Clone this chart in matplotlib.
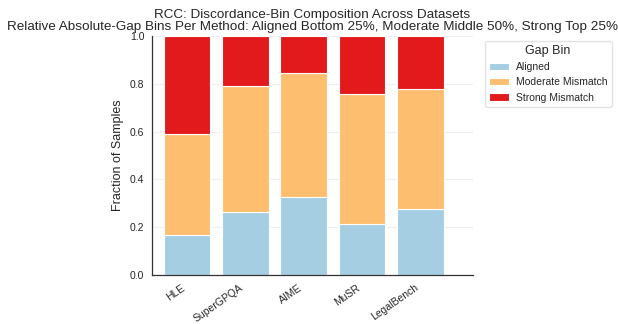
import numpy as np
import seaborn as sns
from matplotlib import pyplot as plt

datasets = ['HLE', 'SuperGPQA', 'AIME', 'MuSR', 'LegalBench']
bins = ['Aligned', 'Moderate Mismatch', 'Strong Mismatch']
aligned = [0.166, 0.262, 0.325, 0.213, 0.276]
moderate = [0.424, 0.527, 0.520, 0.543, 0.502]
strong = [0.410, 0.211, 0.155, 0.244, 0.222]
colors = ['#a6cee3', '#fdbf6f', '#e31a1c']

sns.set_style('whitegrid')
plt.rcParams['font.family'] = ['Liberation Sans', 'DejaVu Sans']

fig = plt.figure(figsize=(6.18, 3.24), dpi=100)
ax = fig.add_axes([0.246, 0.151, 0.519, 0.738])

x = np.arange(len(datasets))
bottom = np.zeros(len(datasets))
for name, vals, c in zip(bins, [aligned, moderate, strong], colors):
    ax.bar(x, vals, 0.8, bottom=bottom, color=c, edgecolor='white', linewidth=0.8, label=name)
    bottom += np.array(vals)

ax.set_ylim(0, 1)
ax.set_xlim(-0.6, 4.9)
ax.set_xticks(x)
ax.set_xticklabels(datasets, rotation=35, ha='right', fontsize=7.5)
ax.tick_params(axis='y', labelsize=7.5, pad=2)
ax.tick_params(axis='x', pad=2)
ax.set_ylabel('Fraction of Samples', fontsize=9)
ax.grid(axis='x', visible=False)
ax.grid(axis='y', color='#f0f0f0', linewidth=0.8)
for s in ['top', 'right']:
    ax.spines[s].set_visible(False)
for s in ['left', 'bottom']:
    ax.spines[s].set_color('#333333')
    ax.spines[s].set_linewidth(0.9)

ax.set_title('RCC: Discordance-Bin Composition Across Datasets\n'
             'Relative Absolute-Gap Bins Per Method: Aligned Bottom 25%, Moderate Middle 50%, Strong Top 25%',
             fontsize=9.7, pad=4, linespacing=1.0)

leg = ax.legend(title='Gap Bin', loc='upper left', bbox_to_anchor=(1.037, 0.98),
                borderaxespad=0, fontsize=7.5, title_fontsize=9, frameon=True,
                handlelength=1.9, handletextpad=0.7, borderpad=0.4)
leg.get_frame().set_edgecolor('#dddddd')

fig.savefig('out.png', dpi=100)
